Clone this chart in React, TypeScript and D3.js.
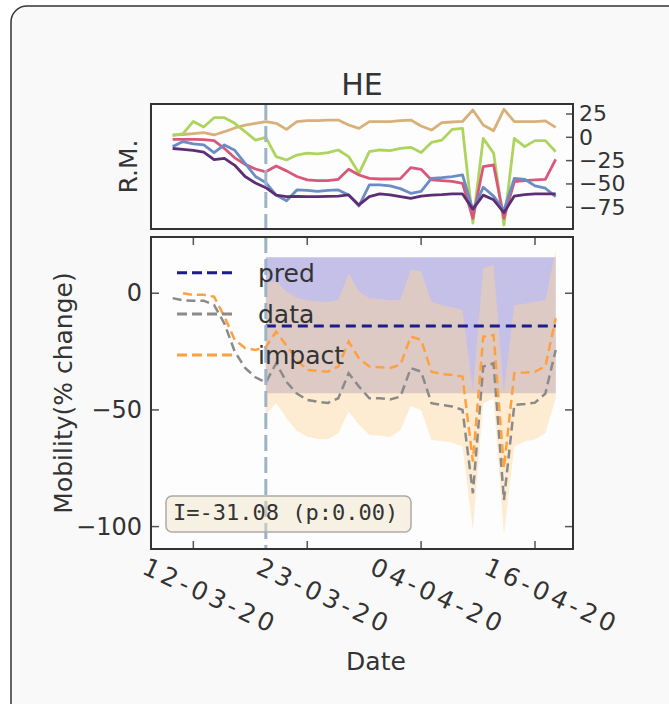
import * as d3 from "d3";

// x positions are day indices (0 = first observation)
const X_TICK_IDX = [2, 13, 24, 35];
const X_TICK_LABELS = ["12-03-20", "23-03-20", "04-04-20", "16-04-20"];
const INTERVENTION = 9;

const RM_TICKS = [25, 0, -25, -50, -75];
const MOB_TICKS = [0, -50, -100];

// top panel: regional mobility series
const RM_TAN = [2.5, 3, 4, 5, 2.5, 6, 10, 13, 15, 16.8, 15, 8.5, 16.8, 17.8, 17.8, 18.5, 18.5, 13.2, 9.6, 16.8, 16.8, 16.8, 17.8, 18.5, 12.1, 7.8, 15.7, 16.4, 17, 29.3, 13.2, 7.1, 30, 16.8, 16.8, 16.8, 17.6, 10.7];
const RM_GREEN = [1.7, 4, 17, 11, 21, 21, 15, 6, -3, 0, -20.7, -24.3, -19, -17, -17.8, -16.4, -13.6, -20.7, -38.6, -15.4, -13.6, -14.3, -11.8, -10.7, -16.4, -5.5, -3, 8.5, 9.6, -92, -1.1, -17, -94, -1.1, -10, -3.6, -3.6, -15.4];
const RM_RED = [-2.2, -2.2, -2.2, -2.5, -3.5, -12, -22, -29, -34, -37, -30.7, -36, -42, -45.7, -46.5, -46.5, -45, -34.3, -40.4, -44, -44.7, -44.7, -44.3, -32.5, -34.3, -45.7, -46.5, -47.2, -49.3, -86.8, -31.4, -29.7, -86.8, -47.5, -46.5, -45.7, -45, -23.6];
const RM_BLUE = [-10, -4.6, -7, -8.2, -16.4, -8.2, -14, -28, -42, -48.6, -62, -68, -56.4, -57, -58, -57, -56.4, -61.8, -73.6, -51.1, -51, -52, -55, -60, -58, -44, -43.2, -42.1, -40.4, -77.8, -53.6, -63, -78, -44, -45, -52, -54.6, -63.6];
const RM_PURPLE = [-12, -13, -14, -16, -24, -22.5, -30, -42, -49, -54, -62, -63.6, -63.3, -63.6, -63.6, -63.3, -63, -61.8, -72.5, -63.6, -60.7, -61.8, -63.5, -65.4, -63, -62, -61.5, -60.7, -60.7, -77, -62, -67, -80.7, -63, -61.5, -60.7, -60.7, -60.7];

// bottom panel
const DATA = [-2.1, -3, -3.2, -3.2, -5, -13, -25, -32, -36, -38.3, -30, -38, -43, -45.7, -46.5, -47, -45, -34.3, -40, -45, -45, -45.5, -44.3, -32.1, -33.6, -47.1, -47.9, -48.5, -50, -85.7, -31.4, -30, -88.6, -47.9, -47.5, -46.9, -43, -24.3];
const IMPACT = [null, 0, -0.7, -0.7, -1.5, -10, -20, -23.5, -24.3, -23, -16.5, -22.5, -28.6, -32.9, -33.3, -33.6, -31.4, -20.7, -27.9, -31.4, -31.7, -32, -30.7, -18.6, -20, -33.6, -34.6, -35, -35.7, -72.1, -18.6, -17.9, -75, -34.3, -34, -33.6, -31.4, -10.7];
const IMPACT_UPPER = [null, null, null, null, null, null, null, null, null, 4.3, 5, 0.7, -2, -3, -3.5, -3.6, -2.9, 8.6, 0.7, -2.1, -2.5, -3, -2.9, 10.3, 9.3, -3.6, -5, -6, -7.2, -41.4, 10.7, 12.1, -42.1, -5, -4.5, -3.6, -3, 18.6];
const IMPACT_LOWER = [null, null, null, null, null, null, null, null, null, -52, -47, -53.6, -59, -61.4, -62.5, -62.6, -60, -50.7, -56.4, -60.7, -61, -61.7, -58.6, -48.3, -50, -62.9, -63.3, -64, -65.7, -101.4, -47.1, -45, -103.6, -65.7, -63.5, -62.6, -60, -45];
const PRED = -14;
const PRED_UPPER = 15.4;
const PRED_LOWER = -42.9;

const FONT = "'DejaVu Sans', sans-serif";
const TOP = { x0: 151, x1: 573, y0: 104, y1: 229 };
const BOT = { x0: 151, x1: 573, y0: 237, y1: 549 };

const fmt = (v: number) => (v < 0 ? `\u2212${-v}` : `${v}`);

export default function App() {
  const n = DATA.length;
  const idx = d3.range(n);

  const x = d3.scaleLinear().domain([-2.09, 38.67]).range([TOP.x0, TOP.x1]);
  const yTop = d3.scaleLinear().domain([-98.3, 35.7]).range([TOP.y1, TOP.y0]);
  const yBot = d3.scaleLinear().domain([-109.6, 24.1]).range([BOT.y1, BOT.y0]);

  const lineTop = d3
    .line<number>()
    .x((_, i) => x(i))
    .y((d) => yTop(d));

  const lineBot = d3
    .line<number | null>()
    .defined((d) => d !== null)
    .x((_, i) => x(i))
    .y((d) => yBot(d as number));

  const post = idx.filter((i) => i >= INTERVENTION);

  const predBand = d3
    .area<number>()
    .x((i) => x(i))
    .y0(() => yBot(PRED_LOWER))
    .y1(() => yBot(PRED_UPPER));

  const impactBand = d3
    .area<number>()
    .x((i) => x(i))
    .y0((i) => yBot(IMPACT_LOWER[i] as number))
    .y1((i) => yBot(IMPACT_UPPER[i] as number));

  const predLine = d3
    .line<number>()
    .x((i) => x(i))
    .y(() => yBot(PRED));

  const topSeries = [
    { values: RM_TAN, color: "#d8b07a" },
    { values: RM_GREEN, color: "#add45c" },
    { values: RM_RED, color: "#d8577a" },
    { values: RM_BLUE, color: "#6b8dc4" },
    { values: RM_PURPLE, color: "#5e2e74" },
  ];

  const legend = [
    { label: "pred", color: "#1c1c8a", dash: "10 5" },
    { label: "data", color: "#8a8a8a", dash: "10 5" },
    { label: "impact", color: "#ffa040", dash: "10 5" },
  ];

  const xi = x(INTERVENTION);

  return (
    <svg
      width={669}
      height={704}
      style={{ position: "absolute", left: 0, top: 0, fontFamily: FONT }}
    >
      <rect x={0} y={0} width={669} height={704} fill="#ffffff" />
      {/* card */}
      <rect x={11} y={6} width={690} height={730} rx={16} fill="#f9f9f9" stroke="#333" strokeWidth={1.5} />

      <text x={362} y={95} textAnchor="middle" fontSize={30} fill="#333">
        HE
      </text>

      {/* ── top panel ── */}
      <rect x={TOP.x0} y={TOP.y0} width={TOP.x1 - TOP.x0} height={TOP.y1 - TOP.y0} fill="#fdfdfd" />
      {topSeries.map((s, k) => (
        <path
          key={k}
          d={lineTop(s.values) || ""}
          fill="none"
          stroke={s.color}
          strokeWidth={2.8}
          strokeLinejoin="round"
        />
      ))}
      <line x1={xi} x2={xi} y1={TOP.y0} y2={TOP.y1} stroke="#9db3c9" strokeWidth={3} strokeDasharray="16 6" />
      {RM_TICKS.map((t) => (
        <g key={t}>
          <line x1={TOP.x1 - 7} x2={TOP.x1} y1={yTop(t)} y2={yTop(t)} stroke="#555" strokeWidth={1.5} />
          <text x={579} y={yTop(t)} dominantBaseline="central" fontSize={22} fill="#333">
            {fmt(t)}
          </text>
        </g>
      ))}
      <rect
        x={TOP.x0}
        y={TOP.y0}
        width={TOP.x1 - TOP.x0}
        height={TOP.y1 - TOP.y0}
        fill="none"
        stroke="#333"
        strokeWidth={2}
      />
      <text
        transform={`translate(137,${(TOP.y0 + TOP.y1) / 2}) rotate(-90)`}
        textAnchor="middle"
        fontSize={25}
        fill="#333"
      >
        R.M.
      </text>

      {/* ── bottom panel ── */}
      <rect x={BOT.x0} y={BOT.y0} width={BOT.x1 - BOT.x0} height={BOT.y1 - BOT.y0} fill="#fdfdfd" />
      <path d={predBand(post) || ""} fill="#c5c0e8" />
      <path d={impactBand(post) || ""} fill="#fdd699" fillOpacity={0.44} />

      <path d={lineBot(DATA) || ""} fill="none" stroke="#8a8a8a" strokeWidth={2.5} strokeDasharray="9 5" />
      <path d={lineBot(IMPACT) || ""} fill="none" stroke="#ffa040" strokeWidth={2.5} strokeDasharray="9 5" />
      <path d={predLine(post) || ""} fill="none" stroke="#1c1c8a" strokeWidth={3} strokeDasharray="10 6" />

      <line x1={xi} x2={xi} y1={BOT.y0} y2={BOT.y1} stroke="#9db3c9" strokeWidth={3} strokeDasharray="16 6" />

      {legend.map((l, k) => {
        const ly = 272.7 + k * 41.2;
        return (
          <g key={l.label}>
            <line x1={177} x2={236} y1={ly} y2={ly} stroke={l.color} strokeWidth={3} strokeDasharray={l.dash} />
            <text x={258} y={ly + 9} fontSize={25} fill="#333">
              {l.label}
            </text>
          </g>
        );
      })}

      <rect x={166} y={496} width={245} height={36} rx={6} fill="#f0e2c4" fillOpacity={0.45} stroke="#aaa" strokeWidth={1.5} />
      <text x={173} y={520} fontSize={22} fill="#333" fontFamily="'DejaVu Sans Mono', monospace">
        I=-31.08 (p:0.00)
      </text>

      {X_TICK_IDX.map((t) => (
        <g key={t}>
          <line x1={x(t)} x2={x(t)} y1={BOT.y0} y2={BOT.y0 + 8} stroke="#555" strokeWidth={1.5} />
          <line x1={x(t)} x2={x(t)} y1={BOT.y1} y2={BOT.y1 - 8} stroke="#555" strokeWidth={1.5} />
        </g>
      ))}
      {MOB_TICKS.map((t) => (
        <g key={t}>
          <line x1={BOT.x0} x2={BOT.x0 + 8} y1={yBot(t)} y2={yBot(t)} stroke="#555" strokeWidth={1.5} />
          <line x1={BOT.x1} x2={BOT.x1 - 8} y1={yBot(t)} y2={yBot(t)} stroke="#555" strokeWidth={1.5} />
          <text x={142} y={yBot(t)} textAnchor="end" dominantBaseline="central" fontSize={24} fill="#333">
            {fmt(t)}
          </text>
        </g>
      ))}
      <rect
        x={BOT.x0}
        y={BOT.y0}
        width={BOT.x1 - BOT.x0}
        height={BOT.y1 - BOT.y0}
        fill="none"
        stroke="#333"
        strokeWidth={2}
      />

      {X_TICK_IDX.map((t, k) => (
        <text
          key={t}
          transform={`translate(${x(t) + 17},596) rotate(25)`}
          textAnchor="middle"
          dominantBaseline="central"
          fontSize={25}
          letterSpacing={4}
          fill="#333"
        >
          {X_TICK_LABELS[k]}
        </text>
      ))}

      <text x={376} y={670} textAnchor="middle" fontSize={25} fill="#333">
        Date
      </text>
      <text
        transform={`translate(72,${(BOT.y0 + BOT.y1) / 2}) rotate(-90)`}
        textAnchor="middle"
        fontSize={25}
        fill="#333"
      >
        Mobility(% change)
      </text>
    </svg>
  );
}
